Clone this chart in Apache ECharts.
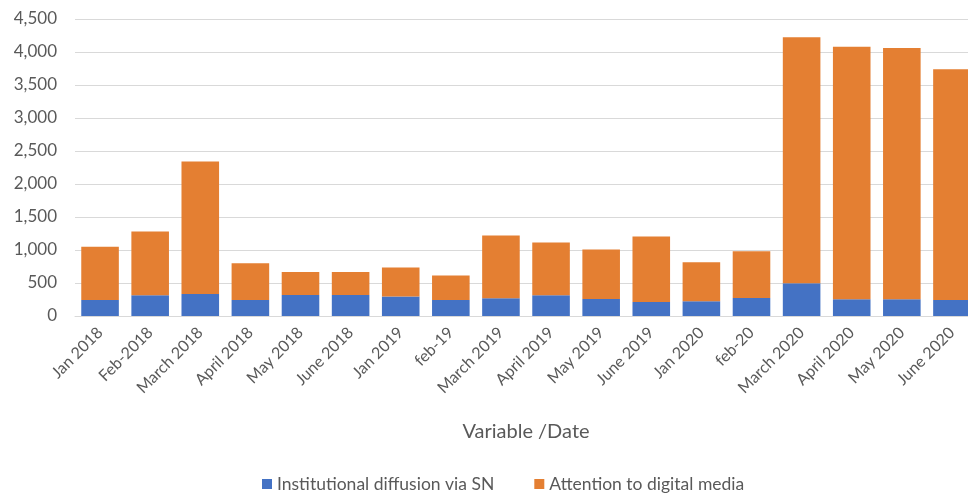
<!DOCTYPE html>
<html>
<head>
<meta charset="utf-8">
<script src="https://cdn.jsdelivr.net/npm/echarts@6/dist/echarts.min.js"></script>
<style>
  html, body { margin: 0; padding: 0; background: #fff; overflow: hidden; }
  #chart { width: 968px; height: 501px; }
</style>
</head>
<body>
<div id="chart"></div>
<script>
// Monthly categories
const categories = [
  'Jan 2018', 'Feb-2018', 'March 2018', 'April 2018', 'May 2018', 'June 2018',
  'Jan 2019', 'feb-19', 'March 2019', 'April 2019', 'May 2019', 'June 2019',
  'Jan 2020', 'feb-20', 'March 2020', 'April 2020', 'May 2020', 'June 2020'
];

// Institutional diffusion via social networks
const institutional = [243, 314, 334, 243, 318, 318, 294, 243, 268, 314, 258, 212, 223, 273, 496, 253, 253, 243];

// Attention to digital media (stacked on top)
const attention = [807, 966, 2006, 557, 347, 347, 441, 369, 952, 799, 749, 993, 592, 709, 3726, 3827, 3807, 3494];

const yTicks = { min: 0, max: 4500, interval: 500 };

const FONT = 'Lato, "Noto Sans", sans-serif';
const TEXT = '#595959';

const chart = echarts.init(document.getElementById('chart'));
chart.setOption({
  animation: false,
  backgroundColor: '#ffffff',
  // plot is wider than the canvas so the last column is clipped at the edge
  grid: {
    left: 75, width: 902, top: 19, bottom: 185,
    containLabel: false,
    outerBoundsMode: 'none'
  },
  legend: {
    bottom: 3,
    left: 257,
    icon: 'rect',
    itemWidth: 10,
    itemHeight: 10,
    itemGap: 40,
    textStyle: { color: TEXT, fontSize: 17.5, fontFamily: FONT },
    data: ['Institutional diffusion via SN', 'Attention to digital media']
  },
  xAxis: {
    type: 'category',
    data: categories,
    name: 'Variable /Date',
    nameLocation: 'middle',
    nameGap: 106,
    nameTextStyle: { color: TEXT, fontSize: 20, fontFamily: FONT },
    axisLine: { lineStyle: { color: '#D9D9D9' } },
    axisTick: { show: false },
    axisLabel: {
      rotate: 45,
      interval: 0,
      color: TEXT,
      fontSize: 16,
      fontFamily: FONT,
      margin: 14
    }
  },
  yAxis: {
    type: 'value',
    min: yTicks.min,
    max: yTicks.max,
    interval: yTicks.interval,
    axisLine: { show: false },
    axisTick: { show: false },
    splitLine: { lineStyle: { color: '#D9D9D9', width: 1 } },
    axisLabel: {
      color: TEXT,
      fontSize: 17,
      fontFamily: FONT,
      margin: 18,
      formatter: v => v.toLocaleString('en-US')
    }
  },
  series: [
    {
      name: 'Institutional diffusion via SN',
      type: 'bar',
      stack: 'total',
      data: institutional,
      barCategoryGap: '25%',
      itemStyle: { color: '#4472C4' }
    },
    {
      name: 'Attention to digital media',
      type: 'bar',
      stack: 'total',
      data: attention,
      barCategoryGap: '25%',
      itemStyle: { color: '#E47F32' }
    }
  ]
});
</script>
</body>
</html>
